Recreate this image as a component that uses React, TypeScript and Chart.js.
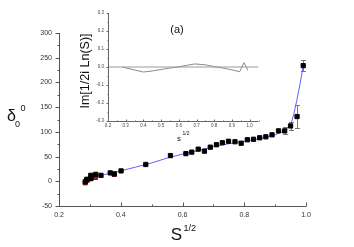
import React, { useEffect, useRef } from "react";
import { Chart, registerables } from "chart.js";
Chart.register(...registerables);

// ---- main data ----
const sqrtS = [0.285, 0.290, 0.303, 0.304, 0.319, 0.336, 0.366, 0.379, 0.401, 0.481, 0.561, 0.611, 0.630, 0.651, 0.671, 0.690, 0.710, 0.729, 0.749, 0.770, 0.790, 0.810, 0.830, 0.850, 0.870, 0.890, 0.911, 0.931, 0.950, 0.971, 0.991];
const delta = [-1, 4, 12, 6, 14, 12, 17, 15, 21, 34, 52, 56, 59, 65, 61, 69, 74, 78, 81, 80, 77, 84, 85, 88, 90, 94, 102, 102, 112, 131, 234];
const deltaErr = [0, 0, 0, 0, 0, 0, 0, 0, 0, 0, 0, 0, 0, 0, 0, 0, 0, 0, 0, 0, 0, 0, 0, 0, 0, 0, 0, 7, 8, 24, 11];
const redS = [0.285, 0.291, 0.301, 0.318, 0.379];
const redDelta = [-3, 2, 5, 8, 14];
const fitS = [0.285, 0.30, 0.35, 0.40, 0.45, 0.50, 0.55, 0.60, 0.65, 0.70, 0.75, 0.80, 0.85, 0.90, 0.93, 0.95, 0.96, 0.97, 0.98, 0.991];
const fitDelta = [1, 6, 14, 21, 29, 37, 47, 55, 62, 70, 76, 81, 86, 94, 102, 113, 135, 163, 195, 233];
const xTicks = [0.2, 0.4, 0.6, 0.8, 1.0];
const xMinor = [0.3, 0.5, 0.7, 0.9];
const yTicks = [-50, 0, 50, 100, 150, 200, 250, 300];
const yMinor = [-25, 25, 75, 125, 175, 225, 275];

// ---- inset data ----
const insetS = [0.28, 0.33, 0.40, 0.45, 0.50, 0.55, 0.59, 0.65, 0.69, 0.75, 0.80, 0.85, 0.90, 0.944, 0.968, 0.99];
const insetIm = [0, -0.012, -0.028, -0.022, -0.014, -0.006, 0, 0.01, 0.017, 0.012, 0.002, -0.006, -0.016, -0.026, 0.024, -0.018];
const insetZeroS = [0.2, 1.05];
const insetZeroIm = [0, 0];
const insetXTicks = [0.2, 0.3, 0.4, 0.5, 0.6, 0.7, 0.8, 0.9, 1.0];
const insetXMinor = [0.25, 0.35, 0.45, 0.55, 0.65, 0.75, 0.85, 0.95, 1.05];
const insetYTicks = [-0.3, -0.2, -0.1, 0.0, 0.1, 0.2, 0.3];
const insetYMinor = [-0.25, -0.15, -0.05, 0.05, 0.15, 0.25];

const FONT = '"Liberation Sans", Arial, sans-serif';

function drawAxes(chart: any, opts: any) {
  const { ctx, chartArea, scales } = chart;
  const x = scales.x, y = scales.y;
  ctx.save();
  ctx.strokeStyle = opts.axisColor;
  ctx.lineWidth = 1;
  const lx = Math.round(chartArea.left) + 0.5;
  const by = Math.round(chartArea.bottom) + 0.5;
  ctx.beginPath();
  ctx.moveTo(lx, chartArea.top);
  ctx.lineTo(lx, by);
  ctx.lineTo(chartArea.right, by);
  ctx.stroke();
  ctx.beginPath();
  opts.yTicks.forEach((v: number) => {
    const py = Math.round(y.getPixelForValue(v)) + 0.5;
    ctx.moveTo(lx, py); ctx.lineTo(lx - opts.yMajor, py);
  });
  opts.yMinor.forEach((v: number) => {
    const py = Math.round(y.getPixelForValue(v)) + 0.5;
    ctx.moveTo(lx, py); ctx.lineTo(lx - opts.yMinorLen, py);
  });
  opts.xTicks.forEach((v: number) => {
    const px = Math.round(x.getPixelForValue(v)) + 0.5;
    ctx.moveTo(px, by); ctx.lineTo(px, by - opts.xMajor);
  });
  opts.xMinor.forEach((v: number) => {
    const px = Math.round(x.getPixelForValue(v)) + 0.5;
    ctx.moveTo(px, by); ctx.lineTo(px, by - opts.xMinorLen);
  });
  ctx.stroke();
  ctx.restore();
}

const mainDecor = {
  id: "mainDecor",
  beforeDatasetsDraw(chart: any) {
    const { ctx, scales } = chart;
    const x = scales.x, y = scales.y;
    ctx.save();
    ctx.strokeStyle = "#7a7a7a";
    ctx.lineWidth = 1;
    ctx.beginPath();
    sqrtS.forEach((s, i) => {
      const e = deltaErr[i];
      if (!e) return;
      const px = Math.round(x.getPixelForValue(s)) + 0.5;
      const p1 = Math.round(y.getPixelForValue(delta[i] + e)) + 0.5;
      const p2 = Math.round(y.getPixelForValue(delta[i] - e)) + 0.5;
      ctx.moveTo(px, p1); ctx.lineTo(px, p2);
      ctx.moveTo(px - 2.5, p1); ctx.lineTo(px + 2.5, p1);
      ctx.moveTo(px - 2.5, p2); ctx.lineTo(px + 2.5, p2);
    });
    ctx.stroke();
    ctx.restore();
  },
  afterDraw(chart: any) {
    drawAxes(chart, {
      axisColor: "#555", yTicks, yMinor, xTicks, xMinor,
      yMajor: 4, yMinorLen: 2, xMajor: 4, xMinorLen: 2,
    });
    const { ctx } = chart;
    ctx.save();
    ctx.fillStyle = "#111";
    ctx.textBaseline = "middle";
    ctx.textAlign = "center";
    ctx.font = `16px ${FONT}`;
    ctx.fillText("δ", 11.5, 117);
    ctx.font = `9px ${FONT}`;
    ctx.fillText("0", 17.5, 125);
    ctx.fillText("0", 23, 108.5);
    ctx.font = `17px ${FONT}`;
    ctx.fillText("S", 176.5, 235);
    ctx.textAlign = "left";
    ctx.font = `9px ${FONT}`;
    ctx.fillText("1/2", 183.5, 229);
    ctx.restore();
  },
};

const insetDecor = {
  id: "insetDecor",
  afterDraw(chart: any) {
    drawAxes(chart, {
      axisColor: "#666", yTicks: insetYTicks, yMinor: insetYMinor, xTicks: insetXTicks, xMinor: insetXMinor,
      yMajor: 2, yMinorLen: 1, xMajor: 2, xMinorLen: 1,
    });
    const { ctx } = chart;
    ctx.save();
    ctx.fillStyle = "#111";
    ctx.textBaseline = "middle";
    ctx.textAlign = "center";
    ctx.font = `11px ${FONT}`;
    ctx.fillText("(a)", 107, 30);
    ctx.save();
    ctx.translate(16, 71);
    ctx.rotate(-Math.PI / 2);
    ctx.font = `12.5px ${FONT}`;
    ctx.fillText("Im[1/2i Ln(S)]", 0, 0);
    ctx.restore();
    ctx.font = `8px ${FONT}`;
    ctx.fillText("s", 109, 139);
    ctx.textAlign = "left";
    ctx.font = `5px ${FONT}`;
    ctx.fillText("1/2", 112.5, 134);
    ctx.restore();
  },
};

function MainChart() {
  const ref = useRef<HTMLCanvasElement>(null);
  useEffect(() => {
    const chart = new Chart(ref.current as HTMLCanvasElement, {
      type: "scatter",
      data: {
        datasets: [
          {
            label: "delta",
            data: sqrtS.map((s, i) => ({ x: s, y: delta[i] })),
            pointStyle: "rect",
            pointRadius: 3,
            pointBackgroundColor: "#000",
            pointBorderColor: "#000",
            pointBorderWidth: 1,
            showLine: false,
            order: 0,
          },
          {
            label: "delta2",
            data: redS.map((s, i) => ({ x: s, y: redDelta[i] })),
            pointStyle: "rect",
            pointRadius: 3,
            pointBackgroundColor: "#8a1c1c",
            pointBorderColor: "#8a1c1c",
            pointBorderWidth: 1,
            showLine: false,
            order: 2,
          },
          {
            label: "fit",
            data: fitS.map((s, i) => ({ x: s, y: fitDelta[i] })),
            showLine: true,
            borderColor: "rgba(70,70,255,0.85)",
            borderWidth: 1,
            pointRadius: 0,
            tension: 0,
            order: 1,
          },
        ],
      },
      options: {
        responsive: false,
        animation: false,
        events: [],
        layout: { padding: { top: 33, right: 48, left: 0, bottom: 0 } },
        plugins: { legend: { display: false }, tooltip: { enabled: false } },
        scales: {
          x: {
            type: "linear",
            min: 0.2,
            max: 1.0,
            grid: { display: false, drawTicks: false },
            border: { display: false },
            afterBuildTicks: (s: any) => { s.ticks = xTicks.map((v) => ({ value: v })); },
            afterFit: (s: any) => { s.height = 41; },
            ticks: {
              padding: 5,
              maxRotation: 0,
              autoSkip: false,
              color: "#333",
              font: { family: FONT, size: 7 },
              callback: (v: any) => Number(v).toFixed(1),
            },
          },
          y: {
            type: "linear",
            min: -50,
            max: 300,
            grid: { display: false, drawTicks: false },
            border: { display: false },
            afterBuildTicks: (s: any) => { s.ticks = yTicks.map((v) => ({ value: v })); },
            afterFit: (s: any) => { s.width = 59; },
            ticks: {
              padding: 7,
              autoSkip: false,
              color: "#333",
              font: { family: FONT, size: 7 },
              callback: (v: any) => String(v),
            },
          },
        },
      } as any,
      plugins: [mainDecor],
    });
    return () => chart.destroy();
  }, []);
  return <canvas ref={ref} width={354} height={247} style={{ position: "absolute", left: 0, top: 0, width: 354, height: 247 }} />;
}

function InsetChart() {
  const ref = useRef<HTMLCanvasElement>(null);
  useEffect(() => {
    const chart = new Chart(ref.current as HTMLCanvasElement, {
      type: "scatter",
      data: {
        datasets: [
          {
            label: "zero",
            data: insetZeroS.map((s, i) => ({ x: s, y: insetZeroIm[i] })),
            showLine: true,
            borderColor: "#9a9a9a",
            borderWidth: 1,
            pointRadius: 0,
          },
          {
            label: "im",
            data: insetS.map((s, i) => ({ x: s, y: insetIm[i] })),
            showLine: true,
            borderColor: "#8a8a8a",
            borderWidth: 1,
            pointRadius: 0,
            tension: 0,
          },
        ],
      },
      options: {
        responsive: false,
        animation: false,
        events: [],
        layout: { padding: { top: 13, right: 11.5, left: 0, bottom: 0 } },
        plugins: { legend: { display: false }, tooltip: { enabled: false } },
        scales: {
          x: {
            type: "linear",
            min: 0.2,
            max: 1.05,
            grid: { display: false, drawTicks: false },
            border: { display: false },
            afterBuildTicks: (s: any) => { s.ticks = insetXTicks.map((v) => ({ value: v })); },
            afterFit: (s: any) => { s.height = 29; },
            ticks: {
              padding: 2,
              maxRotation: 0,
              autoSkip: false,
              color: "#444",
              font: { family: FONT, size: 4.5 },
              callback: (v: any) => Number(v).toFixed(1),
            },
          },
          y: {
            type: "linear",
            min: -0.3,
            max: 0.3,
            grid: { display: false, drawTicks: false },
            border: { display: false },
            afterBuildTicks: (s: any) => { s.ticks = insetYTicks.map((v) => ({ value: v })); },
            afterFit: (s: any) => { s.width = 38; },
            ticks: {
              padding: 4,
              autoSkip: false,
              color: "#444",
              font: { family: FONT, size: 4.5 },
              callback: (v: any) => Number(v).toFixed(1),
            },
          },
        },
      } as any,
      plugins: [insetDecor],
    });
    return () => chart.destroy();
  }, []);
  return <canvas ref={ref} width={200} height={150} style={{ position: "absolute", left: 70, top: 0, width: 200, height: 150 }} />;
}

export default function App() {
  return (
    <div style={{ position: "absolute", left: 0, top: 0, width: 354, height: 247, background: "#fff" }}>
      <MainChart />
      <InsetChart />
    </div>
  );
}
